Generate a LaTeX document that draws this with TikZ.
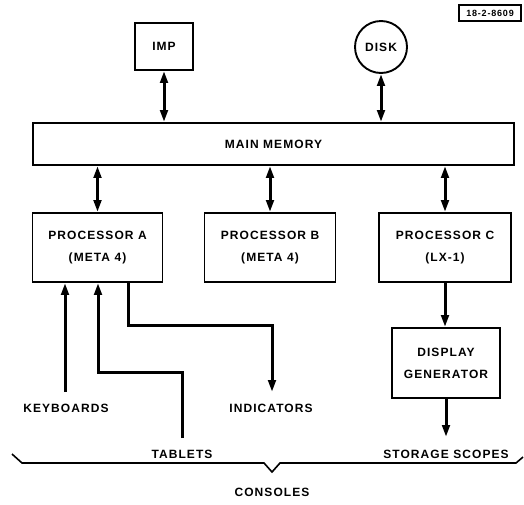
\documentclass[tikz,border=0pt]{standalone}
\usepackage{fontspec}
\setmainfont{Liberation Sans}[LetterSpace=9]
\usetikzlibrary{arrows.meta}
\begin{document}
\begin{tikzpicture}[x=1pt,y=-1pt,
  lbl/.style={font=\fontsize{12}{22}\selectfont\bfseries, inner sep=0pt, align=center},
  box/.style={draw, line width=1.9pt, lbl},
  conn/.style={line width=3pt, -{Triangle[length=12pt,width=7.5pt]}},
  dconn/.style={line width=3pt, {Triangle[length=12pt,width=7.5pt]}-{Triangle[length=12pt,width=7.5pt]}},
  bracestyle/.style={line width=1.6pt}]
\useasboundingbox (0,0) rectangle (524,504);

% id tag
\node[draw, line width=1.6pt, font=\fontsize{9}{9}\selectfont\bfseries, inner sep=0pt,
      minimum width=62pt, minimum height=16pt] (tag) at (490,13) {18-2-8609};

% top units
\node[box, minimum width=58pt, minimum height=47pt] (imp) at (164,46.5) {IMP};
\node[draw, circle, line width=1.9pt, lbl, minimum size=52pt] (disk) at (381,47) {DISK};

% main memory
\node[box, minimum width=481pt, minimum height=42pt] (mm) at (273.5,144) {MAIN MEMORY};

% processors
\node[box, minimum width=130pt, minimum height=69pt] (pa) at (97.5,247.5) {PROCESSOR A\\(META 4)};
\node[box, minimum width=131pt, minimum height=69pt] (pb) at (270,247.5) {PROCESSOR B\\(META 4)};
\node[box, minimum width=132pt, minimum height=69pt] (pc) at (445,247.5) {PROCESSOR C\\(LX-1)};
\node[box, minimum width=108pt, minimum height=70pt] (dg) at (446,363) {DISPLAY\\GENERATOR};

% labels
\node[lbl] (kbl) at (66,408) {KEYBOARDS};
\node[lbl] (ind) at (271,408) {INDICATORS};
\node[lbl] (tab) at (182,454) {TABLETS};
\node[lbl] (sto) at (446,454) {STORAGE SCOPES};
\node[lbl] (con) at (272,492) {CONSOLES};

% memory connections
\draw[dconn] (imp.south) -- (imp.south |- mm.north);
\draw[dconn] (disk.south) -- (disk.south |- mm.north);
\draw[dconn] (pa.north |- mm.south) -- (pa.north);
\draw[dconn] (pb.north |- mm.south) -- (pb.north);
\draw[dconn] (pc.north |- mm.south) -- (pc.north);

% processor C to display
\draw[conn] (pc.south) -- (pc.south |- dg.north);
\coordinate (stoTop) at (446,437);
\draw[conn] (dg.south) -- (stoTop);

% console devices
\coordinate (kbTop) at (65,392);
\draw[conn] (kbTop) -- (65,0 |- pa.south);
\coordinate (tbTop) at (182,438);
\draw[conn] (tbTop) |- (98,372) -- (98,0 |- pa.south);
\coordinate (indTip) at (272,392);
\draw[conn] (128,0 |- pa.south) |- (272,325) -- (indTip);

% brace
\coordinate (bL) at (12,454);
\coordinate (bM) at (272,472);
\coordinate (bR) at (523,457);
\draw[bracestyle] (bL) -- (22,463) -- (264,463) -- (bM) -- (280,463) -- (516,463) -- (bR);
\end{tikzpicture}
\end{document}
